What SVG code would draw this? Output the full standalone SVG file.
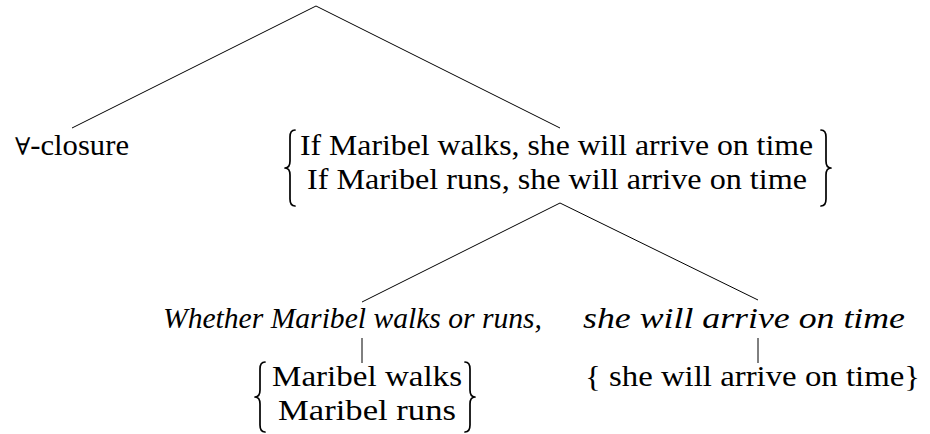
<svg xmlns="http://www.w3.org/2000/svg" width="930" height="434" viewBox="0 0 930 434">
  <style>
    .t { font-family: "Liberation Serif", LiberationSerif, Tinos, "DejaVu Serif", "Times New Roman", Times, "Nimbus Roman", FreeSerif, serif; font-size: 29px; fill: #000; }
    .i { font-style: italic; }
    .edge { stroke: #000; stroke-width: 1; fill: none; }
    .brace { stroke: #000; stroke-width: 1.7; fill: none; stroke-linejoin: round; stroke-linecap: round; }
  </style>
  <rect width="930" height="434" fill="#fff"/>

  <!-- tree branches -->
  <g id="connectors">
    <path class="edge" d="M316,6 L72,128"/>
    <path class="edge" d="M316,6 L560,128"/>
    <path class="edge" d="M560,203 L362,302"/>
    <path class="edge" d="M560,203 L758,300"/>
    <path class="edge" d="M362,338 L362,363"/>
    <path class="edge" d="M758,338 L758,363"/>
  </g>

  <g id="closure">
    <text class="t" x="15" y="155" textLength="114" lengthAdjust="spacingAndGlyphs"><tspan font-size="24">∀</tspan>-closure</text>
  </g>

  <g id="conditionals">
    <path class="brace" d="M295,130 Q290,130 290,137 L290,161 Q290,168 285,168 Q290,168 290,175 L290,199 Q290,206 295,206"/>
    <text class="t" x="300" y="155" textLength="513" lengthAdjust="spacingAndGlyphs">If Maribel walks, she will arrive on time</text>
    <text class="t" x="307" y="189" textLength="500" lengthAdjust="spacingAndGlyphs">If Maribel runs, she will arrive on time</text>
    <path class="brace" d="M821,130 Q826,130 826,137 L826,161 Q826,168 831,168 Q826,168 826,175 L826,199 Q826,206 821,206"/>
  </g>

  <g id="whether">
    <text class="t i" x="163" y="328" textLength="379" lengthAdjust="spacingAndGlyphs">Whether Maribel walks or runs,</text>
  </g>

  <g id="consequent">
    <text class="t i" x="583" y="328" textLength="322" lengthAdjust="spacingAndGlyphs">she will arrive on time</text>
  </g>

  <g id="alternatives">
    <path class="brace" d="M265,362 Q260,362 260,369 L260,390 Q260,397 255,397 Q260,397 260,404 L260,425 Q260,432 265,432"/>
    <text class="t" x="272" y="386" textLength="190" lengthAdjust="spacingAndGlyphs">Maribel walks</text>
    <text class="t" x="278" y="420" textLength="178" lengthAdjust="spacingAndGlyphs">Maribel runs</text>
    <path class="brace" d="M465,362 Q470,362 470,369 L470,390 Q470,397 475,397 Q470,397 470,404 L470,425 Q470,432 465,432"/>
  </g>

  <g id="consequent-set">
    <text class="t" x="585" y="386" textLength="335" lengthAdjust="spacingAndGlyphs">{ she will arrive on time}</text>
  </g>
</svg>
